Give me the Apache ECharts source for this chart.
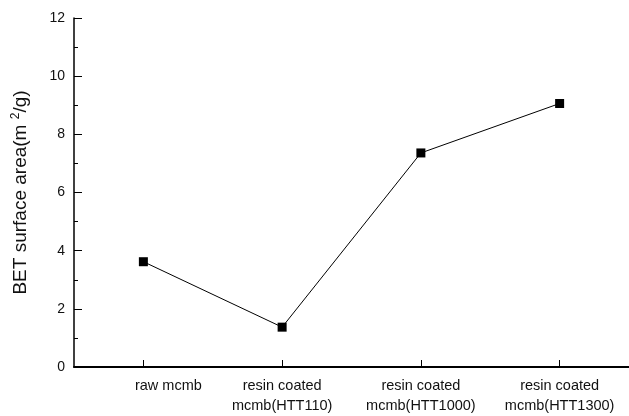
<!DOCTYPE html>
<html>
<head>
<meta charset="utf-8">
<script src="https://cdn.jsdelivr.net/npm/echarts@6/dist/echarts.min.js"></script>
<style>
html,body{margin:0;padding:0;background:#fff;}
#chart{width:629px;height:416px;}
</style>
</head>
<body>
<div id="chart"></div>
<script>
var categories = ['raw mcmb', 'resin coated\nmcmb(HTT110)', 'resin coated\nmcmb(HTT1000)', 'resin coated\nmcmb(HTT1300)'];
var betValues = [3.62, 1.37, 7.36, 9.06];
var yTicks = [0, 2, 4, 6, 8, 10, 12];

var font = '"Liberation Sans", Arial, Helvetica, sans-serif';
var chart = echarts.init(document.getElementById('chart'), null, {renderer: 'canvas'});
chart.setOption({
  animation: false,
  backgroundColor: '#fff',
  grid: {left: 74, right: 0, top: 18, bottom: 46, containLabel: false},
  xAxis: {
    type: 'category',
    data: categories,
    boundaryGap: true,
    axisLine: {show: true, lineStyle: {color: '#000', width: 2}},
    axisTick: {show: true, inside: true, alignWithLabel: true, length: 7, lineStyle: {color: '#000', width: 1}},
    axisLabel: {
      color: '#111', fontSize: 14.5, fontFamily: font, lineHeight: 20, margin: 9, interval: 0,
      formatter: function (v, i) { return i === 0 ? '{off|' + v + '}' : v; },
      rich: {off: {fontSize: 14.5, fontFamily: font, color: '#111', padding: [0, 0, 0, 50]}}
    },
    splitLine: {show: false}
  },
  yAxis: {
    type: 'value',
    min: yTicks[0],
    max: yTicks[yTicks.length - 1],
    interval: 2,
    name: 'BET surface area(m {sup|2}/g)',
    nameLocation: 'middle',
    nameGap: 42,
    nameRotate: 90,
    nameTextStyle: {
      color: '#111', fontSize: 19, fontFamily: font, lineHeight: 22,
      rich: {sup: {fontSize: 12, fontFamily: font, color: '#111', verticalAlign: 'top', lineHeight: 22, padding: [0, 0, 8, 0]}}
    },
    axisLine: {show: true, lineStyle: {color: '#000', width: 1.5}},
    axisTick: {show: true, inside: true, length: 8, lineStyle: {color: '#000', width: 1}},
    minorTick: {show: true, splitNumber: 2, length: 4, lineStyle: {color: '#000', width: 1}},
    axisLabel: {color: '#111', fontSize: 14, fontFamily: font, margin: 9},
    splitLine: {show: false}
  },
  series: [{
    type: 'line',
    data: betValues,
    symbol: 'rect',
    symbolSize: 9,
    itemStyle: {color: '#000'},
    lineStyle: {color: '#000', width: 1},
    label: {show: false}
  }]
});
</script>
</body>
</html>
